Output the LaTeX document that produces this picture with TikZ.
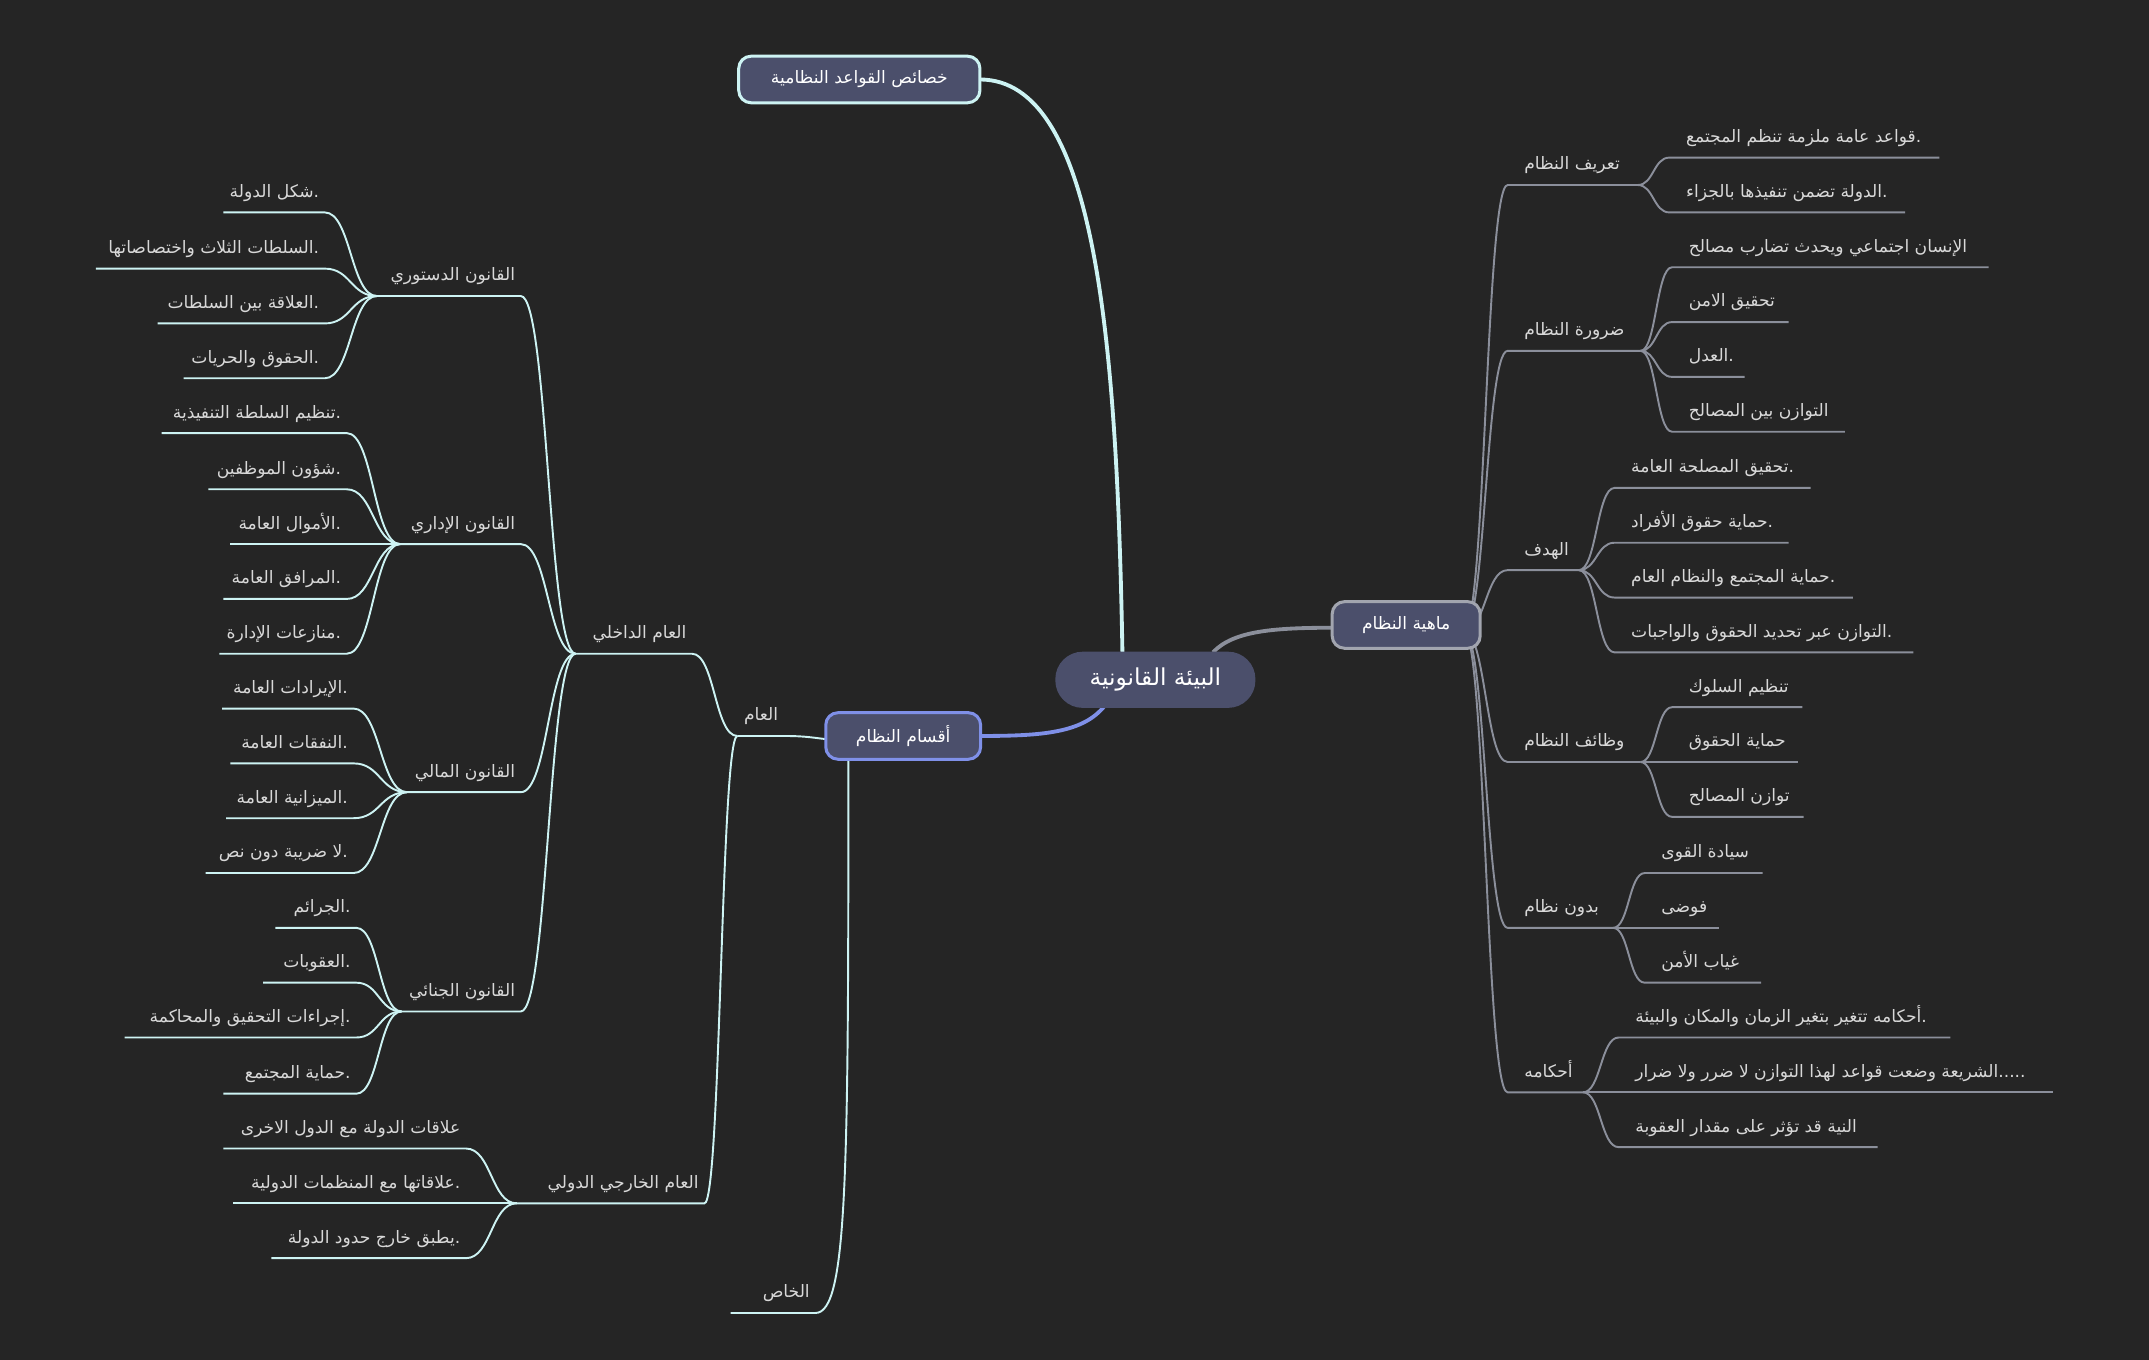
\documentclass[tikz,border=0pt]{standalone}
\usepackage{fontspec}
\setmainfont{DejaVu Sans}[Script=Arabic]
\TeXXeTstate=1
\definecolor{bg}{HTML}{252525}
\definecolor{boxf}{HTML}{4B4F6B}
\definecolor{cyanl}{HTML}{CDF3F3}
\definecolor{grayl}{HTML}{8B8F9B}
\definecolor{bluel}{HTML}{7F90E8}
\definecolor{txt}{HTML}{D8D8D8}
\newcommand\AR[1]{\beginR #1\endR}
\tikzset{
  rl/.style={draw=grayl,line width=1.4pt},
  ll/.style={draw=cyanl,line width=1.4pt},
  lt/.style={text=txt,font=\fontsize{12.5}{14}\selectfont,inner sep=0pt},
  box/.style={rounded corners=9pt,fill=boxf,text=white,font=\fontsize{12.5}{14}\selectfont,line width=2.2pt,minimum height=34pt,inner sep=0pt}
}
% right leaf: parent x,y ; left x ; right x ; y ; text
\newcommand\RL[6]{%
  \draw[rl] (#1,#2) .. controls ({(#1+#3)/2},#2) and ({(#1+#3)/2},#5) .. (#3,#5) -- (#4,#5);
  \node[lt,anchor=base west] at ({#3+12},{#5-11}) {#6};}
\newcommand\LL[6]{%
  \draw[ll] (#1,#2) .. controls ({(#1+#4)/2},#2) and ({(#1+#4)/2},#5) .. (#4,#5) -- (#3,#5);
  \node[lt,anchor=base east] at ({#4-4},{#5-11}) {#6};}
\begin{document}
\begin{tikzpicture}[x=1pt,y=-1pt]
\fill[bg] (0,0) rectangle (1568,992);
\useasboundingbox (0,0) rectangle (1568,992);
% main connectors
\draw[cyanl,line width=2.8pt] (715,58) .. controls (800,58) and (815,250) .. (819,478);
\draw[grayl,line width=2.8pt] (885,476) .. controls (900,460) and (930,458) .. (975,458);
\draw[bluel,line width=2.8pt] (806,515) .. controls (790,535) and (760,537) .. (714,537);
% right subtree
\RL{1068}{460}{1100}{1195}{135}{\AR{تعريف النظام}}
\RL{1195}{135}{1218}{1415}{115}{\AR{قواعد عامة ملزمة تنظم المجتمع}.}
\RL{1195}{135}{1218}{1390}{155}{\AR{الدولة تضمن تنفيذها بالجزاء}.}
\RL{1068}{460}{1100}{1197}{256}{\AR{ضرورة النظام}}
\RL{1197}{256}{1220}{1451}{195}{\AR{الإنسان اجتماعي ويحدث تضارب مصالح}}
\RL{1197}{256}{1220}{1305}{235}{\AR{تحقيق الامن}}
\RL{1197}{256}{1220}{1273}{275}{\AR{العدل}.}
\RL{1197}{256}{1220}{1346}{315}{\AR{التوازن بين المصالح}}
\RL{1068}{460}{1100}{1152}{416}{\AR{الهدف}}
\RL{1152}{416}{1178}{1321}{356}{\AR{تحقيق المصلحة العامة}.}
\RL{1152}{416}{1178}{1305}{396}{\AR{حماية حقوق الأفراد}.}
\RL{1152}{416}{1178}{1352}{436}{\AR{حماية المجتمع والنظام العام}.}
\RL{1152}{416}{1178}{1396}{476}{\AR{التوازن عبر تحديد الحقوق والواجبات}.}
\RL{1068}{460}{1100}{1197}{556}{\AR{وظائف النظام}}
\RL{1197}{556}{1220}{1315}{516}{\AR{تنظيم السلوك}}
\RL{1197}{556}{1220}{1312}{556}{\AR{حماية الحقوق}}
\RL{1197}{556}{1220}{1316}{596}{\AR{توازن المصالح}}
\RL{1068}{460}{1100}{1177}{677}{\AR{بدون نظام}}
\RL{1177}{677}{1200}{1286}{637}{\AR{سيادة القوى}}
\RL{1177}{677}{1200}{1254}{677}{\AR{فوضى}}
\RL{1177}{677}{1200}{1285}{717}{\AR{غياب الأمن}}
\RL{1068}{460}{1100}{1155}{797}{\AR{أحكامه}}
\RL{1155}{797}{1181}{1423}{757}{\AR{أحكامه تتغير بتغير الزمان والمكان والبيئة}.}
\RL{1155}{797}{1181}{1498}{797}{\AR{الشريعة وضعت قواعد لهذا التوازن لا ضرر ولا ضرار}.....}
\RL{1155}{797}{1181}{1370}{837}{\AR{النية قد تؤثر على مقدار العقوبة}}
% left subtree
\LL{620}{540}{538}{572}{537}{\AR{العام}}
\draw[ll] (619,545) .. controls (619,850) and (619,958) .. (595,958) -- (533,958);
\node[lt,anchor=base east] at (591,947) {\AR{الخاص}};
\LL{538}{537}{420}{505}{477}{\AR{العام الداخلي}}
\LL{538}{537}{377}{514}{878}{\AR{العام الخارجي الدولي}}
\LL{420}{477}{275}{380}{216}{\AR{القانون الدستوري}}
\LL{275}{216}{163}{237}{155}{\AR{شكل الدولة}.}
\LL{275}{216}{70}{237}{196}{\AR{السلطات الثلاث واختصاصاتها}.}
\LL{275}{216}{115}{237}{236}{\AR{العلاقة بين السلطات}.}
\LL{275}{216}{134}{237}{276}{\AR{الحقوق والحريات}.}
\LL{420}{477}{292}{380}{397}{\AR{القانون الإداري}}
\LL{292}{397}{118}{253}{316}{\AR{تنظيم السلطة التنفيذية}.}
\LL{292}{397}{152}{253}{357}{\AR{شؤون الموظفين}.}
\LL{292}{397}{168}{253}{397}{\AR{الأموال العامة}.}
\LL{292}{397}{163}{253}{437}{\AR{المرافق العامة}.}
\LL{292}{397}{160}{253}{477}{\AR{منازعات الإدارة}.}
\LL{420}{477}{297}{380}{578}{\AR{القانون المالي}}
\LL{297}{578}{162}{258}{517}{\AR{الإيرادات العامة}.}
\LL{297}{578}{168}{258}{557}{\AR{النفقات العامة}.}
\LL{297}{578}{165}{258}{597}{\AR{الميزانية العامة}.}
\LL{297}{578}{150}{258}{637}{\AR{لا ضريبة دون نص}.}
\LL{420}{477}{293}{380}{738}{\AR{القانون الجنائي}}
\LL{293}{738}{201}{260}{677}{\AR{الجرائم}.}
\LL{293}{738}{192}{260}{717}{\AR{العقوبات}.}
\LL{293}{738}{91}{260}{757}{\AR{إجراءات التحقيق والمحاكمة}.}
\LL{293}{738}{163}{260}{798}{\AR{حماية المجتمع}.}
\LL{377}{878}{163}{340}{838}{\AR{علاقات الدولة مع الدول الاخرى}}
\LL{377}{878}{170}{340}{878}{\AR{علاقاتها مع المنظمات الدولية}.}
\LL{377}{878}{198}{340}{918}{\AR{يطبق خارج حدود الدولة}.}
% boxes
\node[box,draw=cyanl,minimum width=176pt] (top) at (627,58) {\AR{خصائص القواعد النظامية}};
\node[box,draw=grayl!80!white,minimum width=108pt] (mah) at (1026,456) {\AR{ماهية النظام}};
\node[box,draw=bluel,minimum width=113pt] (aqs) at (659,537) {\AR{أقسام النظام}};
\node[box,draw=none,rounded corners=20pt,minimum width=146pt,minimum height=41pt,font=\fontsize{17}{20}\selectfont] (root) at (843,496) {\AR{البيئة القانونية}};
\end{tikzpicture}
\end{document}
